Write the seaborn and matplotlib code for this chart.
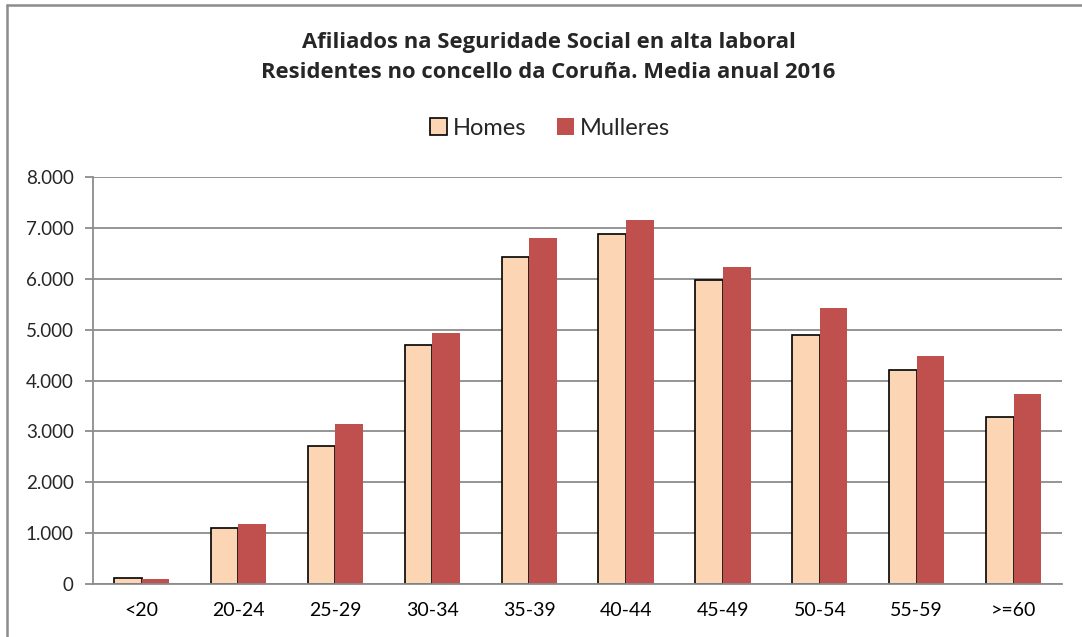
import numpy as np
import pandas as pd
import matplotlib
matplotlib.use("Agg")
import matplotlib.pyplot as plt
from matplotlib.lines import Line2D
from matplotlib.patches import Patch
from matplotlib.ticker import FuncFormatter, FixedLocator
import seaborn as sns

sns.set_theme(style="white")
plt.rcParams["font.family"] = ["Lato", "DejaVu Sans"]

# data
grupos = ["<20", "20-24", "25-29", "30-34", "35-39",
          "40-44", "45-49", "50-54", "55-59", ">=60"]
homes = [110, 1100, 2710, 4700, 6430, 6880, 5970, 4890, 4200, 3280]
mulleres = [90, 1170, 3140, 4930, 6800, 7150, 6240, 5420, 4480, 3730]

HOMES_COL = "#FCD5B5"
MULL_COL = "#C0504D"
GRID = "#8C8C8C"

df = pd.DataFrame({
    "grupo": grupos * 2,
    "sexo": ["Homes"] * len(grupos) + ["Mulleres"] * len(grupos),
    "valor": homes + mulleres,
})

fig = plt.figure(figsize=(10.82, 6.37), dpi=100)
ax = fig.add_axes([0.086, 0.0832, 0.8956, 0.6389])

sns.barplot(data=df, x="grupo", y="valor", hue="sexo", order=grupos,
            hue_order=["Homes", "Mulleres"],
            palette={"Homes": HOMES_COL, "Mulleres": MULL_COL},
            width=0.57, saturation=1, ax=ax, legend=False)

for bar in ax.containers[0]:
    bar.set_edgecolor("black")
    bar.set_linewidth(1.2)
for bar in ax.containers[1]:
    bar.set_edgecolor("none")

ax.set_xlim(-0.5, len(grupos) - 0.5)
ax.set_ylim(0, 8000)
ax.set_yticks(np.arange(0, 8001, 1000))
ax.yaxis.set_major_formatter(FuncFormatter(lambda v, p: f"{int(v):,}".replace(",", ".")))
ax.yaxis.grid(True, color=GRID, linewidth=1.3)
ax.set_axisbelow(True)
ax.set_xlabel("")
ax.set_ylabel("")

ax.xaxis.set_minor_locator(FixedLocator(np.arange(-0.5, len(grupos), 1.0)))
ax.tick_params(axis="x", which="major", length=0, labelsize=14, pad=13, colors="black")
ax.tick_params(axis="x", which="minor", length=6, width=1.3, color=GRID, direction="out")
ax.tick_params(axis="y", length=6, width=1.3, color=GRID, labelsize=13.5, pad=8,
               direction="out", left=True)

for s in ["top", "right"]:
    ax.spines[s].set_visible(False)
for s in ["left", "bottom"]:
    ax.spines[s].set_color(GRID)
    ax.spines[s].set_linewidth(1.3)

title_font = ["Open Sans", "DejaVu Sans"]
fig.text(0.507, 0.934, "Afiliados na Seguridade Social en alta laboral",
         ha="center", va="center", fontsize=15.8, fontweight="bold", family=title_font)
fig.text(0.507, 0.886, "Residentes no concello da Coruña. Media anual 2016",
         ha="center", va="center", fontsize=15.8, fontweight="bold", family=title_font)

handles = [Patch(facecolor=HOMES_COL, edgecolor="black", linewidth=1.2),
           Patch(facecolor=MULL_COL, edgecolor="none")]
fig.legend(handles, ["Homes", "Mulleres"], loc="center", bbox_to_anchor=(0.508, 0.799),
           ncol=2, frameon=False, fontsize=17, handlelength=0.72, handleheight=0.72,
           handletextpad=0.25, columnspacing=1.3)

# outer chart frame (only left and top edges are inside the crop)
fig.add_artist(Line2D([0.0065, 0.0065], [0, 0.9925], color="#8C8C8C", linewidth=1.8,
                      transform=fig.transFigure))
fig.add_artist(Line2D([0.0065, 1], [0.9925, 0.9925], color="#8C8C8C", linewidth=1.8,
                      transform=fig.transFigure))

fig.savefig("out.png", dpi=100)
